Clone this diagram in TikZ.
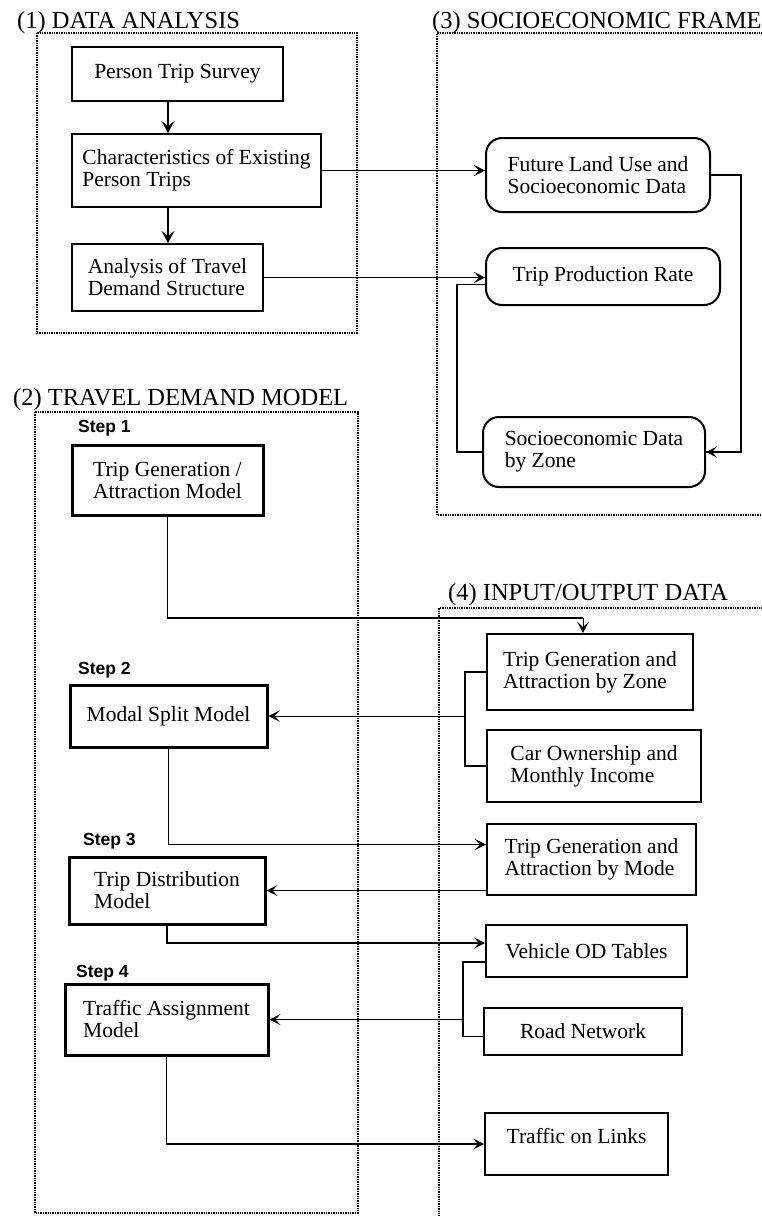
\documentclass[tikz,border=0pt]{standalone}
\usepackage{fontspec}
\setmainfont{Liberation Serif}
\newfontfamily\stepfont{Liberation Sans}
\usetikzlibrary{arrows.meta}

\tikzset{
  boxtext/.style={font=\fontsize{21.5}{22}\selectfont, align=left, inner sep=0pt},
  dabox/.style={boxtext, draw, line width=2pt},
  tdbox/.style={boxtext, draw, line width=3pt},
  sebox/.style={boxtext, draw, line width=2pt, rounded corners=16pt},
  iobox/.style={boxtext, draw, line width=2pt},
  frame/.style={densely dotted, line width=1.4pt},
  sectitle/.style={font=\fontsize{24.5}{26}\selectfont, anchor=base west, inner sep=0pt},
  steplbl/.style={font=\stepfont\bfseries\fontsize{17.5}{19}\selectfont, anchor=west, inner sep=0pt},
  link/.style={line width=1pt},
  arr/.style={link, -{Stealth[length=11pt,width=11pt,inset=5pt]}},
  bigarr/.style={line width=2.5pt, -{Stealth[length=12pt,width=13pt,inset=5pt]}},
}

\begin{document}
\begin{tikzpicture}[x=1pt, y=-1pt]
\useasboundingbox (0,0) rectangle (762,1216);

% section frames
\draw[frame] (37,33) rectangle (357,333);
\draw[frame] (35,412) rectangle (358,1213);
\draw[frame] (770,33) -- (437,33) -- (437,515) -- (770,515);
\draw[frame] (770,608) -- (439,608) -- (439,1225);

\node[sectitle] (t1) at (17,28) {(1) DATA ANALYSIS};
\node[sectitle] (t2) at (13,405) {(2) TRAVEL DEMAND MODEL};
\node[sectitle] (t3) at (432,28) {(3) SOCIOECONOMIC FRAME};
\node[sectitle] (t4) at (448,600) {(4) INPUT/OUTPUT DATA};

% (1) data analysis
\node[dabox, minimum width=211pt, minimum height=54pt] (pts) at (177.5,74) {Person Trip Survey};
\node[dabox, minimum width=249pt, minimum height=73pt] (cex) at (196.5,170.5) {Characteristics of Existing\\Person Trips};
\node[dabox, minimum width=191pt, minimum height=67pt] (ana) at (167.5,277.5) {Analysis of Travel\\Demand Structure};
\draw[bigarr] (pts.south -| 168,0) -- (cex.north -| 168,0);
\draw[bigarr] (cex.south -| 168,0) -- (ana.north -| 168,0);

% (3) socioeconomic frame
\node[sebox, minimum width=224pt, minimum height=74pt] (flu) at (598,175) {Future Land Use and\\Socioeconomic Data};
\node[sebox, minimum width=234pt, minimum height=57pt] (tpr) at (603,276.5) {Trip Production Rate};
\node[sebox, minimum width=222pt, minimum height=70pt] (sdz) at (594,452) {Socioeconomic Data\\by Zone};
\draw[arr] (cex.east) -- (cex.east -| flu.west);
\draw[arr] (ana.east) -- (ana.east -| tpr.west);
\draw[link, line width=1.5pt] (flu.east) -- ++(30,0) |- (sdz.east);
\draw[arr] ([xshift=30pt]flu.east |- sdz.east) -- (sdz.east);
\draw[link, line width=1.5pt] ([yshift=-8pt]tpr.west) -- ++(-28,0) |- (sdz.west);

% (2) travel demand model
\node[steplbl] (s1) at (78,428) {Step 1};
\node[tdbox, minimum width=191pt, minimum height=70pt] (tgm) at (167.5,480) {Trip Generation /\\Attraction Model};
\node[steplbl] (s2) at (78,670) {Step 2};
\node[tdbox, minimum width=197pt, minimum height=62pt] (msm) at (168.5,716) {Modal Split Model};
\node[steplbl] (s3) at (83,841) {Step 3};
\node[tdbox, minimum width=196pt, minimum height=67pt] (tdm) at (167,890.5) {Trip Distribution\\Model};
\node[steplbl] (s4) at (76,973) {Step 4};
\node[tdbox, minimum width=203pt, minimum height=71pt] (tam) at (166.5,1019.5) {Traffic Assignment\\Model};

% (4) input/output data
\node[iobox, minimum width=206pt, minimum height=76pt] (tgz) at (590,672) {Trip Generation and\\Attraction by Zone};
\node[iobox, minimum width=214pt, minimum height=72pt] (cow) at (594,766) {Car Ownership and\\Monthly Income};
\node[iobox, minimum width=209pt, minimum height=71pt] (tgo) at (591.5,859.5) {Trip Generation and\\Attraction by Mode};
\node[iobox, minimum width=201pt, minimum height=52pt] (vod) at (586.5,951) {Vehicle OD Tables};
\node[iobox, minimum width=198pt, minimum height=47pt] (rdn) at (583,1031.5) {Road Network};
\node[iobox, minimum width=183pt, minimum height=62pt, text depth=16pt] (tol) at (576.5,1144) {Traffic on Links};

\coordinate (c1) at (583,618);
\coordinate (j1) at (465,716);
\coordinate (j2) at (463,1019.5);

\draw[link, line width=1.5pt] (tgm.south) |- (c1);
\draw[arr] (c1) -- (c1 |- tgz.north);
\draw[link, line width=1.5pt] (tgz.west) -| (j1) |- (cow.west);
\draw[arr] (j1) -- (j1 -| msm.east);
\draw[arr, line width=1.5pt] (msm.south) |- ([yshift=15pt]tgo.west);
\draw[arr] (tgo.west |- tdm.east) -- (tdm.east);
\draw[arr, line width=1.5pt] (tdm.south) |- ([yshift=8pt]vod.west);
\draw[link, line width=1.5pt] ([yshift=-11pt]vod.west) -| (j2) |- ([yshift=-5pt]rdn.west);
\draw[arr] (j2) -- (j2 -| tam.east);
\draw[arr, line width=1.5pt] (tam.south) |- (tol.west);
\end{tikzpicture}
\end{document}
